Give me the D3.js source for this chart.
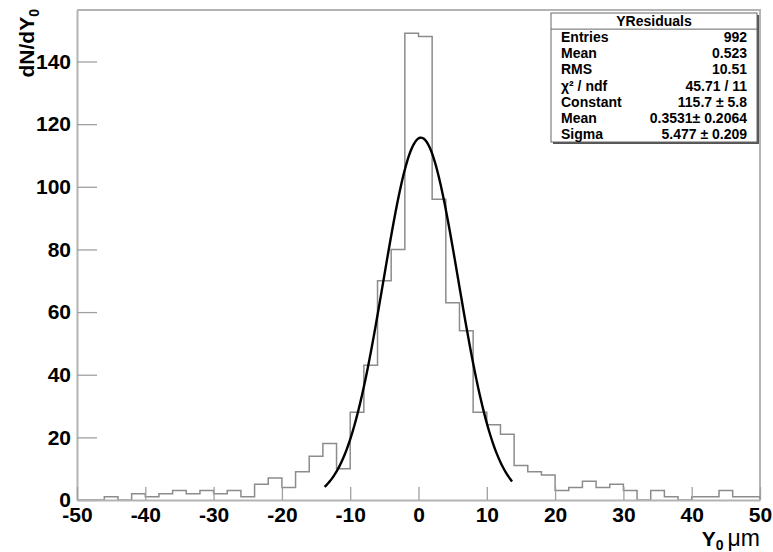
<!DOCTYPE html>
<html>
<head>
<meta charset="utf-8">
<script src="https://cdn.jsdelivr.net/npm/d3@7"></script>
<style>
  body { margin: 0; background: #fff; }
  svg { display: block; }
  text { font-family: "Liberation Sans", Arial, Helvetica, sans-serif; font-weight: bold; }
</style>
</head>
<body>
<svg id="chart" width="773" height="552"></svg>
<script>
// histogram: 50 bins of width 2 from -50 to 50
var binLow = d3.range(-50, 50, 2)
var counts = [0, 0, 1, 0, 2, 1, 2, 3, 2, 3,
              2, 3, 1, 5, 7, 4, 9, 14, 18, 10,
              28, 43, 70, 80, 149, 148, 96, 63, 54, 28,
              24, 21, 11, 9, 8, 3, 4, 6, 4, 5,
              3, 0, 3, 1, 0, 1, 1, 3, 1, 1]
var binWidth = 2

// gaussian fit shown in the stats box
var fitParams = [115.7, 0.3531, 5.477]   // constant, mean, sigma
var fitRange = [-13.75, 13.7]

var statLabels = ["Entries", "Mean", "RMS", "\u03c7\u00b2 / ndf", "Constant", "Mean", "Sigma"]
var statValues = ["992", "0.523", "10.51", "45.71 / 11", "115.7 \u00b1 5.8", "0.3531\u00b1 0.2064", "5.477 \u00b1 0.209"]

var yMajor = d3.range(0, 141, 20)
var yMinor = d3.range(0, 156, 5)
var xMajor = d3.range(-50, 51, 10)
var xMinor = d3.range(-50, 51, 2)

const svg = d3.select("#chart")

const x = d3.scaleLinear().domain([-50, 50]).range([77, 760])
const y = d3.scaleLinear().domain([0, 156.45]).range([500, 10])

// frame (top + right)
svg.append("path")
    .attr("d", `M${x(-50)},${y(156.45)}H${x(50)}V${y(0)}`)
    .style("fill", "none")
    .style("stroke", "#b4b4b4")
    .style("stroke-width", 2)

// histogram outline
let pts = [[binLow[0], 0]]
counts.forEach((c, i) => {
    pts.push([binLow[i], c])
    pts.push([binLow[i] + binWidth, c])
})
pts.push([binLow[binLow.length - 1] + binWidth, 0])

svg.append("path")
    .datum(pts)
    .attr("d", d3.line().x(d => x(d[0])).y(d => y(d[1])))
    .style("fill", "none")
    .style("stroke", "#8c8c8c")
    .style("stroke-width", 1.5)

// fit curve
const gaus = v => fitParams[0] * Math.exp(-0.5 * Math.pow((v - fitParams[1]) / fitParams[2], 2))
let fitPts = d3.range(0, 101).map(k => {
    let v = fitRange[0] + (fitRange[1] - fitRange[0]) * k / 100
    return [v, gaus(v)]
})
svg.append("path")
    .datum(fitPts)
    .attr("d", d3.line().x(d => x(d[0])).y(d => y(d[1])).curve(d3.curveCatmullRom))
    .style("fill", "none")
    .style("stroke", "#000")
    .style("stroke-width", 2.4)

// y axis
const yAxisG = svg.append("g").attr("transform", `translate(${x(-50)},0)`)
yAxisG.call(d3.axisLeft(y).tickValues(yMinor).tickSize(-10).tickSizeOuter(0).tickFormat(""))
yAxisG.call(d3.axisLeft(y).tickValues(yMajor).tickSize(-20).tickSizeOuter(0).tickPadding(6).tickFormat(d => String(d)))
yAxisG.selectAll(".domain").style("stroke", "#b4b4b4").style("stroke-width", 2)
yAxisG.selectAll(".tick line").style("stroke", "#a0a0a0").style("stroke-width", 1.3)
yAxisG.selectAll(".tick text")
    .style("font-size", "21px")
    .style("fill", "#000")

// x axis
const xAxisG = svg.append("g").attr("transform", `translate(0,${y(0)})`)
xAxisG.call(d3.axisBottom(x).tickValues(xMinor).tickSize(-7).tickSizeOuter(0).tickFormat(""))
xAxisG.call(d3.axisBottom(x).tickValues(xMajor).tickSize(-13).tickSizeOuter(0).tickPadding(7).tickFormat(d => String(d)))
xAxisG.selectAll(".domain").style("stroke", "#b4b4b4").style("stroke-width", 2)
xAxisG.selectAll(".tick line").style("stroke", "#a0a0a0").style("stroke-width", 1.3)
xAxisG.selectAll(".tick text")
    .style("font-size", "21px")
    .style("fill", "#000")

// axis titles
let xt = svg.append("text")
    .attr("x", 760)
    .attr("y", 546)
    .attr("text-anchor", "end")
    .style("font-size", "21px")
xt.append("tspan").text("Y")
xt.append("tspan").attr("dy", 4).style("font-size", "14px").text("0")
xt.append("tspan").attr("dy", -4).attr("dx", 4).style("font-weight", "normal").style("font-size", "23px").text("\u03bcm")

let yt = svg.append("text")
    .attr("transform", "translate(34,9) rotate(-90)")
    .attr("text-anchor", "end")
    .style("font-size", "21px")
yt.append("tspan").text("dN/dY")
yt.append("tspan").attr("dy", 5).style("font-size", "14px").text("0")

// stats box
const box = { x: 551, y: 13, w: 206, h: 129 }
svg.append("rect")
    .attr("x", box.x + 2).attr("y", box.y + 2)
    .attr("width", box.w).attr("height", box.h)
    .style("fill", "#555")
svg.append("rect")
    .attr("x", box.x).attr("y", box.y)
    .attr("width", box.w).attr("height", box.h)
    .style("fill", "#fff")
    .style("stroke", "#666")
    .style("stroke-width", 1)

const rowH = box.h / (statLabels.length + 1)
svg.append("line")
    .attr("x1", box.x).attr("x2", box.x + box.w)
    .attr("y1", box.y + rowH).attr("y2", box.y + rowH)
    .style("stroke", "#666")
svg.append("text")
    .attr("x", box.x + box.w / 2)
    .attr("y", box.y + rowH / 2)
    .attr("dy", "0.36em")
    .attr("text-anchor", "middle")
    .style("font-size", "14px")
    .text("YResiduals")

statLabels.forEach((lab, i) => {
    let cy = box.y + rowH * (i + 1.5)
    svg.append("text")
        .attr("x", box.x + 10)
        .attr("y", cy)
        .attr("dy", "0.36em")
        .style("font-size", "14px")
        .text(lab)
    svg.append("text")
        .attr("x", box.x + box.w - 10)
        .attr("y", cy)
        .attr("dy", "0.36em")
        .attr("text-anchor", "end")
        .style("font-size", "14px")
        .text(statValues[i])
})
</script>
</body>
</html>
